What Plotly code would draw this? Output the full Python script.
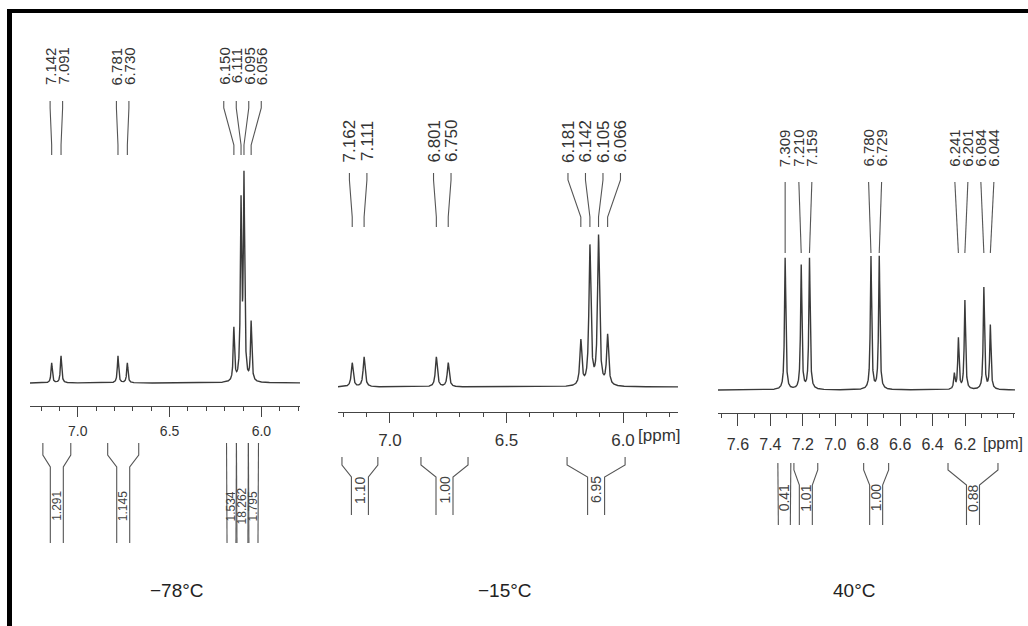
import numpy as np
import plotly.graph_objects as go

W, H = 1028, 626

# ---------------- data ----------------
# Panel 1 : -78 °C
p1_ppm = [7.142, 7.091, 6.781, 6.730, 6.150, 6.111, 6.095, 6.056]
p1_height = [20, 27, 27, 20, 53, 174, 200, 59]
p1_labels = ["7.142", "7.091", "6.781", "6.730", "6.150", "6.111", "6.095", "6.056"]
p1_int_from = [7.190, 6.837, 6.190, 6.136, 6.071]
p1_int_to = [7.038, 6.668, 6.136, 6.071, 6.016]
p1_int_val = ["1.291", "1.145", "1.534", "18.262", "1.795"]

# Panel 2 : -15 °C
p2_ppm = [7.162, 7.111, 6.801, 6.750, 6.181, 6.142, 6.105, 6.066]
p2_height = [24, 30, 30, 24, 45, 139, 149, 50]
p2_labels = ["7.162", "7.111", "6.801", "6.750", "6.181", "6.142", "6.105", "6.066"]
p2_int_from = [7.206, 6.867, 6.240]
p2_int_to = [7.052, 6.665, 5.991]
p2_int_val = ["1.10", "1.00", "6.95"]

# Panel 3 : 40 °C
p3_ppm = [7.309, 7.210, 7.159, 6.780, 6.729, 6.241, 6.201, 6.084, 6.044]
p3_height = [132, 124, 131, 133, 133, 51, 89, 102, 64]
p3_labels = ["7.309", "7.210", "7.159", "6.780", "6.729", "6.241", "6.201", "6.084", "6.044"]
p3_extra_ppm = [6.266]          # unlabelled shoulder
p3_extra_height = [15]
p3_int_from = [7.354, 7.255, 6.825, 6.305]
p3_int_to = [7.274, 7.108, 6.671, 5.997]
p3_int_val = ["0.41", "1.01", "1.00", "0.88"]

temps = ["\u221278\u00b0C", "\u221215\u00b0C", "40\u00b0C"]

# ---------------- layout constants (pixels) ----------------
panels = [
    dict(ppm=p1_ppm, h=p1_height, lab=p1_labels, xppm=[], xh=[],
         ifrom=p1_int_from, ito=p1_int_to, ival=p1_int_val,
         px0=30, px1=300, r0=7.26, r1=5.79, base=383, axis_y=406, hw=0.0042,
         sep=12.5, lab_y=66, lfont=15, c_top=101, c_b1=108, c_b2=145, c_bot=155,
         i_top=443, i_b1=455, i_b2=467, i_bot=543, i_lab=506, ch=6.5, ifont=12,
         tickvals=[7.0, 6.5, 6.0], ticktext=["7.0", "6.5", "6.0"], tfont=14,
         ticklen=10, standoff=2, ppm_x=None, ppm_y=None, temp_x=177),
    dict(ppm=p2_ppm, h=p2_height, lab=p2_labels, xppm=[], xh=[],
         ifrom=p2_int_from, ito=p2_int_to, ival=p2_int_val,
         px0=338, px1=678, r0=7.223, r1=5.764, base=387, axis_y=412, hw=0.0050,
         sep=17.5, lab_y=141, lfont=17, c_top=173, c_b1=180, c_b2=217, c_bot=227,
         i_top=457, i_b1=465, i_b2=477, i_bot=515, i_lab=490, ch=8.5, ifont=14,
         tickvals=[7.0, 6.5, 6.0], ticktext=["7.0", "6.5", "6.0"], tfont=17,
         ticklen=10, standoff=2, ppm_x=659, ppm_y=435, temp_x=505),
    dict(ppm=p3_ppm, h=p3_height, lab=p3_labels, xppm=p3_extra_ppm, xh=p3_extra_height,
         ifrom=p3_int_from, ito=p3_int_to, ival=p3_int_val,
         px0=718, px1=1015, r0=7.723, r1=5.892, base=390, axis_y=413, hw=0.0047,
         sep=13, lab_y=148, lfont=15, c_top=182, c_b1=182, c_b2=253, c_bot=253,
         i_top=463, i_b1=470, i_b2=485, i_bot=525, i_lab=498, ch=6.5, ifont=14,
         tickvals=[7.6, 7.4, 7.2, 7.0, 6.8, 6.6, 6.4, 6.2, 6.0],
         ticktext=["7.6", "7.4", "7.2", "7.0", "6.8", "6.6", "6.4", "6.2", ""], tfont=16,
         ticklen=12, standoff=5, ppm_x=1003, ppm_y=443, temp_x=854),
]

FONT = "Liberation Sans, Arial, Helvetica, sans-serif"
LINE = "#3a3a3a"
GRAY = "#555555"


def ppm2px(p, c):
    return c["px0"] + (c["r0"] - p) / (c["r0"] - c["r1"]) * (c["px1"] - c["px0"])


def px2ppm(x, c):
    return c["r0"] - (x - c["px0"]) / (c["px1"] - c["px0"]) * (c["r0"] - c["r1"])


def spread(xs, sep):
    clusters = [[i] for i in range(len(xs))]

    def pos(cl):
        m = np.mean([xs[i] for i in cl])
        n = len(cl)
        return [m + (k - (n - 1) / 2) * sep for k in range(n)]

    changed = True
    while changed:
        changed = False
        for j in range(len(clusters) - 1):
            if pos(clusters[j])[-1] + sep > pos(clusters[j + 1])[0] + 1e-9:
                clusters[j] = clusters[j] + clusters[j + 1]
                del clusters[j + 1]
                changed = True
                break
    out = [0.0] * len(xs)
    for cl in clusters:
        for i, p in zip(cl, pos(cl)):
            out[i] = p
    return out


fig = go.Figure()
annotations = []

for k, c in enumerate(panels):
    xa = "x" if k == 0 else f"x{k+1}"
    ya = "y" if k == 0 else f"y{k+1}"
    base = c["base"]

    # spectrum
    xs = np.linspace(c["r0"], c["r1"], 6000)
    ys = np.zeros_like(xs)
    for p, h in zip(list(c["ppm"]) + list(c["xppm"]), list(c["h"]) + list(c["xh"])):
        ys += h / (1 + ((xs - p) / c["hw"]) ** 2)
    fig.add_trace(go.Scatter(x=xs, y=ys, mode="lines", xaxis=xa, yaxis=ya,
                             line=dict(color=LINE, width=1.4), hoverinfo="skip",
                             showlegend=False))

    # peak labels + connectors
    peak_px = [ppm2px(p, c) for p in c["ppm"]]
    lab_px = spread(peak_px, c["sep"])
    cx, cy = [], []
    for lp, pp, txt in zip(lab_px, peak_px, c["lab"]):
        pts = [(lp, c["c_top"]), (lp, c["c_b1"]), (pp, c["c_b2"]), (pp, c["c_bot"])]
        for (x, y) in pts:
            cx.append(px2ppm(x, c))
            cy.append(base - y)
        cx.append(None)
        cy.append(None)
        annotations.append(dict(x=px2ppm(lp, c), y=1 - c["lab_y"] / H, xref=xa, yref="paper",
                                text=txt, textangle=-90, showarrow=False,
                                xanchor="center", yanchor="middle",
                                font=dict(family=FONT, size=c["lfont"], color="#333333")))
    fig.add_trace(go.Scatter(x=cx, y=cy, mode="lines", xaxis=xa, yaxis=ya,
                             line=dict(color=GRAY, width=1.1), hoverinfo="skip",
                             showlegend=False, connectgaps=False))

    # integrals
    ix, iy = [], []
    for a, b, v in zip(c["ifrom"], c["ito"], c["ival"]):
        xl, xr = ppm2px(a, c), ppm2px(b, c)
        cen = (xl + xr) / 2
        hw = min(c["ch"], (xr - xl) / 2 - 0.5)
        for side, edge in ((-1, xl), (1, xr)):
            pts = [(edge, c["i_top"]), (edge, c["i_b1"]), (cen + side * hw, c["i_b2"]),
                   (cen + side * hw, c["i_bot"])]
            for (x, y) in pts:
                ix.append(px2ppm(x, c))
                iy.append(base - y)
            ix.append(None)
            iy.append(None)
        annotations.append(dict(x=px2ppm(cen, c), y=1 - c["i_lab"] / H, xref=xa, yref="paper",
                                text=v, textangle=-90, showarrow=False,
                                xanchor="center", yanchor="middle",
                                font=dict(family=FONT, size=c["ifont"], color="#444444")))
    fig.add_trace(go.Scatter(x=ix, y=iy, mode="lines", xaxis=xa, yaxis=ya,
                             line=dict(color=GRAY, width=1.1), hoverinfo="skip",
                             showlegend=False, connectgaps=False))

    # axes
    lo, hi = min(c["r0"], c["r1"]), max(c["r0"], c["r1"])
    minor_vals = [round(v, 1) for v in np.arange(np.ceil(lo * 10) / 10, hi, 0.1)]
    axis = dict(domain=[c["px0"] / W, c["px1"] / W], range=[c["r0"], c["r1"]],
                anchor="free", position=1 - c["axis_y"] / H,
                showline=True, linecolor="#444444", linewidth=1.2,
                ticks="outside", ticklen=c["ticklen"], tickwidth=1.2, tickcolor="#444444",
                tickmode="array", tickvals=c["tickvals"], ticktext=c["ticktext"],
                tickfont=dict(family=FONT, size=c["tfont"], color="#333333"),
                ticklabelstandoff=c["standoff"],
                minor=dict(tickmode="array", tickvals=minor_vals, ticks="outside", ticklen=4,
                           tickwidth=1.1, tickcolor="#444444", showgrid=False),
                showgrid=False, zeroline=False, fixedrange=True)
    yaxis = dict(domain=[0, 1], range=[base - H, base], visible=False,
                 anchor=xa, fixedrange=True)
    key = "" if k == 0 else str(k + 1)
    fig.layout["xaxis" + key] = axis
    fig.layout["yaxis" + key] = yaxis

    if c["ppm_x"] is not None:
        annotations.append(dict(x=c["ppm_x"] / W, y=1 - c["ppm_y"] / H, xref="paper",
                                yref="paper", text="[ppm]", showarrow=False,
                                xanchor="center", yanchor="middle",
                                font=dict(family=FONT, size=c["tfont"], color="#333333")))
    annotations.append(dict(x=c["temp_x"] / W, y=1 - 590 / H, xref="paper", yref="paper",
                            text=temps[k], showarrow=False, xanchor="center", yanchor="middle",
                            font=dict(family=FONT, size=19, color="#222222")))

# black frame (top and left)
shapes = [
    dict(type="line", xref="paper", yref="paper", x0=7 / W, x1=1, y0=1 - 11 / H, y1=1 - 11 / H,
         line=dict(color="black", width=4)),
    dict(type="line", xref="paper", yref="paper", x0=9.5 / W, x1=9.5 / W, y0=1 - 9 / H, y1=0,
         line=dict(color="black", width=5)),
]

fig.update_layout(width=W, height=H, margin=dict(l=0, r=0, t=0, b=0),
                  paper_bgcolor="white", plot_bgcolor="white",
                  annotations=annotations, shapes=shapes, showlegend=False)

fig.write_html("out.html", config={"displayModeBar": False},
               post_script="document.body.style.margin='0px';"
                           "document.body.style.overflow='hidden';")
